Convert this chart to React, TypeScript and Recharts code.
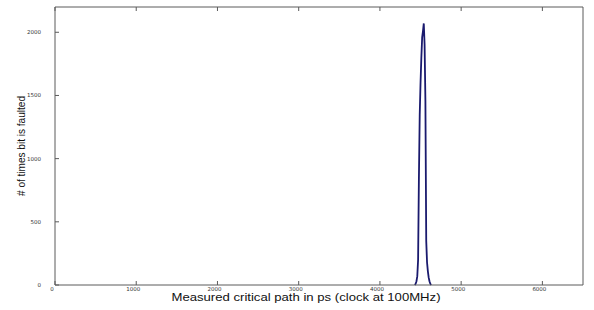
import React from "react";
import { LineChart, Line, XAxis, YAxis } from "recharts";

// histogram of measured critical path (ps) vs fault count
const binPs = [
  4430, 4440, 4450, 4460, 4470, 4480, 4490, 4500, 4510, 4520, 4530, 4540,
  4550, 4560, 4570, 4580, 4590, 4600, 4610, 4620, 4630,
];
const faultCounts = [
  0, 10, 30, 70, 200, 850, 1350, 1600, 1800, 1960, 2010, 2070, 1900, 1450,
  350, 180, 110, 60, 30, 10, 0,
];

const xTicks = [0, 1000, 2000, 3000, 4000, 5000, 6000];
const yTicks = [0, 500, 1000, 1500, 2000];

const data = binPs.map((ps, i) => ({ ps, count: faultCounts[i] }));

const AXIS_COLOR = "#5a5a5a";
const TICK_TEXT = "#333";
const LINE_COLOR = "#1a1a6e";
const TICK_FONT = "DejaVu Sans, sans-serif";
const LABEL_FONT = "Liberation Sans, Arial, sans-serif";

const BottomTick = ({ x, y, payload }: any) => (
  <g>
    <line x1={x} y1={y - 4} x2={x} y2={y} stroke={AXIS_COLOR} />
    <text
      x={x - 3}
      y={y + 6}
      textAnchor="middle"
      fontSize={5.5}
      fontFamily={TICK_FONT}
      fill={TICK_TEXT}
    >
      {payload.value}
    </text>
  </g>
);

const TopTick = ({ x, y }: any) => (
  <line x1={x} y1={y} x2={x} y2={y + 4} stroke={AXIS_COLOR} />
);

const LeftTick = ({ x, y, payload }: any) => (
  <g>
    <line x1={x} y1={y} x2={x + 4} y2={y} stroke={AXIS_COLOR} />
    <text
      x={x - 14}
      y={y + 2}
      textAnchor="end"
      fontSize={5.5}
      fontFamily={TICK_FONT}
      fill={TICK_TEXT}
    >
      {payload.value}
    </text>
  </g>
);

const RightTick = ({ x, y }: any) => (
  <line x1={x - 4} y1={y} x2={x} y2={y} stroke={AXIS_COLOR} />
);

export default function App() {
  return (
    <div
      style={{
        position: "absolute",
        left: 0,
        top: 0,
        width: 594,
        height: 310,
        background: "#fff",
      }}
    >
      <LineChart
        width={594}
        height={310}
        data={data}
        margin={{ top: 6, right: 10, bottom: 0, left: 0 }}
      >
        <XAxis
          xAxisId="bottom"
          dataKey="ps"
          type="number"
          domain={[0, 6500]}
          ticks={xTicks}
          height={25}
          tickSize={0}
          tickMargin={0}
          tickLine={false}
          stroke={AXIS_COLOR}
          tick={<BottomTick />}
          label={{
            content: () => (
              <text
                x={306}
                y={301}
                textAnchor="middle"
                fontSize={11.5}
                textLength={269}
                lengthAdjust="spacingAndGlyphs"
                fontFamily={LABEL_FONT}
                fill="#111"
              >
                Measured critical path in ps (clock at 100MHz)
              </text>
            ),
          }}
        />
        <XAxis
          xAxisId="top"
          orientation="top"
          dataKey="ps"
          type="number"
          domain={[0, 6500]}
          ticks={xTicks}
          height={1}
          tickSize={0}
          tickMargin={0}
          tickLine={false}
          stroke={AXIS_COLOR}
          tick={<TopTick />}
        />
        <YAxis
          yAxisId="left"
          type="number"
          domain={[0, 2200]}
          ticks={yTicks}
          width={55}
          tickSize={0}
          tickMargin={0}
          tickLine={false}
          stroke={AXIS_COLOR}
          tick={<LeftTick />}
          label={{
            content: () => (
              <text
                x={25}
                y={146}
                transform="rotate(-90 25 146)"
                textAnchor="middle"
                fontSize={11.5}
                textLength={100}
                lengthAdjust="spacingAndGlyphs"
                fontFamily={LABEL_FONT}
                fill="#111"
              >
                # of times bit is faulted
              </text>
            ),
          }}
        />
        <YAxis
          yAxisId="right"
          orientation="right"
          type="number"
          domain={[0, 2200]}
          ticks={yTicks}
          width={1}
          tickSize={0}
          tickMargin={0}
          tickLine={false}
          stroke={AXIS_COLOR}
          tick={<RightTick />}
        />
        <Line
          xAxisId="bottom"
          yAxisId="left"
          type="linear"
          dataKey="count"
          stroke={LINE_COLOR}
          strokeWidth={1.8}
          dot={false}
          isAnimationActive={false}
        />
      </LineChart>
    </div>
  );
}
